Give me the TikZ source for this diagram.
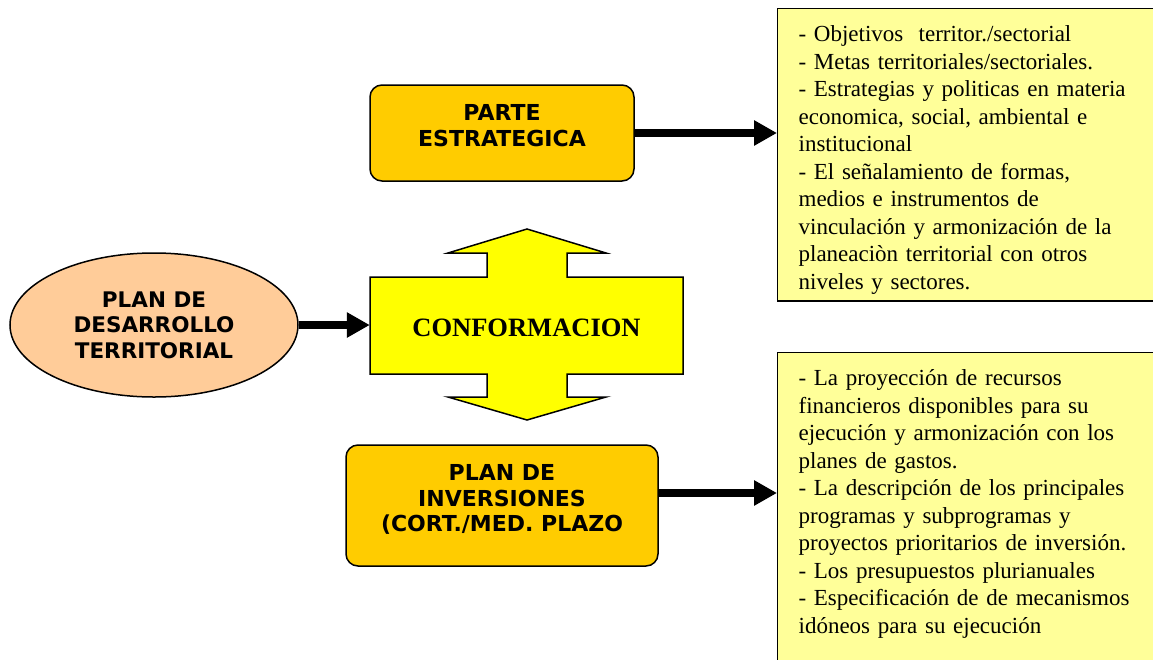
\documentclass[tikz,border=0pt]{standalone}
\usepackage{fontspec}
\setmainfont{Liberation Serif}
\newfontfamily\verdfont{DejaVu Sans}
\usetikzlibrary{shapes.geometric,arrows.meta}
\definecolor{gold}{HTML}{FFCC00}
\definecolor{peach}{HTML}{FFCC99}
\definecolor{lemon}{HTML}{FFFF00}
\definecolor{paleyellow}{HTML}{FFFF99}
\newcommand{\lift}{\rule[-15pt]{0pt}{0pt}}
\begin{document}
\begin{tikzpicture}[x=1pt, y=-1pt,
	goldbox/.style={draw, fill=gold, line width=1.5pt, rounded corners=12pt, align=center, font=\verdfont\bfseries\fontsize{22}{25.5}\selectfont},
	listbox/.style={draw, fill=paleyellow, line width=1.2pt, anchor=north west, text width=360pt, inner xsep=21pt, align=left, font=\fontsize{23}{27.5}\selectfont},
	bigarrow/.style={line width=8pt, -{Triangle[length=23pt,width=24pt]}}]
	\path[use as bounding box, clip] (0,0) rectangle (1153,659);
	% nodes
	\node[draw, fill=peach, ellipse, line width=1.5pt, minimum width=288pt, minimum height=144pt, inner sep=0pt, align=center, font=\verdfont\bfseries\fontsize{21.5}{25.5}\selectfont] (plan) at (154,325) {PLAN DE\\DESARROLLO\\TERRITORIAL};
	\draw[fill=lemon, line width=1.5pt] (527,229) -- (606,253) -- (567,253) -- (567,277) -- (683,277) -- (683,374) -- (567,374) -- (567,397) -- (606,397) -- (527,420) -- (448,397) -- (487,397) -- (487,374) -- (370,374) -- (370,277) -- (487,277) -- (487,253) -- (448,253) -- cycle;
	\node[minimum width=313pt, minimum height=97pt, font=\bfseries\fontsize{26.5}{30}\selectfont] (conf) at (526.5,328) {CONFORMACION};
	\node[goldbox, minimum width=264pt, minimum height=96pt] (parte) at (502,133) {PARTE\\ESTRATEGICA\lift};
	\node[goldbox, minimum width=312pt, minimum height=121pt] (inv) at (502,505.5) {PLAN DE\\INVERSIONES\\(CORT./MED. PLAZO\lift};
	\node[listbox, inner ysep=7pt] (obj) at (777,8) {\rule{0pt}{26pt}- Objetivos \ territor./sectorial\\- Metas territoriales/sectoriales.\\- Estrategias y politicas en materia\\economica, social, ambiental e\\institucional\\- El señalamiento de formas,\\medios e instrumentos de\\vinculación y armonización de la\\planeaciòn territorial con otros\\niveles y sectores.};
	\node[listbox, inner ysep=17pt] (proy) at (777,352) {- La proyección de recursos\\financieros disponibles para su\\ejecución y armonización con los\\planes de gastos.\\- La descripción de los principales\\programas y subprogramas y\\proyectos prioritarios de inversión.\\- Los presupuestos plurianuales\\- Especificación de de mecanismos\\idóneos para su ejecución\\\rule{0pt}{40pt}};
	% connectors
	\draw[bigarrow] (plan.east) -- (conf.west |- plan.east);
	\draw[bigarrow] (parte.east) -- (parte.east -| obj.west);
	\draw[bigarrow] ([yshift=12.5pt]inv.east) -- ([yshift=12.5pt]inv.east -| proy.west);
\end{tikzpicture}
\end{document}
